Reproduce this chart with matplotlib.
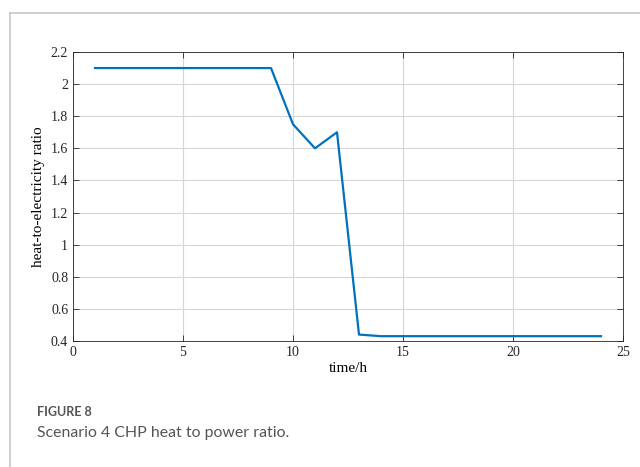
import matplotlib
matplotlib.use('Agg')
import matplotlib.pyplot as plt
from matplotlib.lines import Line2D

# hourly heat-to-electricity ratio, scenario 4
hours = list(range(1, 25))
ratio = [2.1, 2.1, 2.1, 2.1, 2.1, 2.1, 2.1, 2.1, 2.1,
         1.75, 1.6, 1.7, 0.44,
         0.43, 0.43, 0.43, 0.43, 0.43, 0.43, 0.43, 0.43, 0.43, 0.43, 0.43]

xticks = [0, 5, 10, 15, 20, 25]
yticks = [0.4, 0.6, 0.8, 1.0, 1.2, 1.4, 1.6, 1.8, 2.0, 2.2]
yticklabels = ['0.4', '0.6', '0.8', '1', '1.2', '1.4', '1.6', '1.8', '2', '2.2']

fig = plt.figure(figsize=(6.4, 4.67), dpi=100)

# page frame lines (top and left)
fig.add_artist(Line2D([10 / 640, 1], [1 - 13 / 467, 1 - 13 / 467], color='#c8c8c8', lw=1.2))
fig.add_artist(Line2D([10 / 640, 10 / 640], [0, 1 - 13 / 467], color='#c8c8c8', lw=1.2))

ax = fig.add_axes([73 / 640, 1 - 341 / 467, 550 / 640, 289 / 467])
ax.plot(hours, ratio, color='#0072BD', lw=1.6)
ax.set_xlim(0, 25)
ax.set_ylim(0.4, 2.2)
ax.set_xticks(xticks)
ax.set_yticks(yticks)
ax.set_yticklabels(yticklabels)
ax.grid(True, color='#d6d6d6', lw=0.8)
ax.tick_params(direction='in', top=True, right=True, length=4, width=0.6,
               colors='#262626', labelsize=10)
for lab in ax.get_xticklabels() + ax.get_yticklabels():
    lab.set_family('Liberation Serif')
for s in ax.spines.values():
    s.set_color('#262626')
    s.set_linewidth(0.6)
ax.set_xlabel('time/h', family='Liberation Serif', fontsize=11, labelpad=2)
ax.set_ylabel('heat-to-electricity ratio', family='Liberation Serif', fontsize=11, labelpad=4)

fig.text(37 / 640, 1 - 412 / 467, 'FIGURE 8', family='Lato', fontweight='bold', fontsize=9,
         color='#555555', va='center')
fig.text(37 / 640, 1 - 433 / 467, 'Scenario 4 CHP heat to power ratio.', family='Lato',
         fontsize=11.4, color='#555555', va='center')

fig.savefig('out.png', dpi=100)
